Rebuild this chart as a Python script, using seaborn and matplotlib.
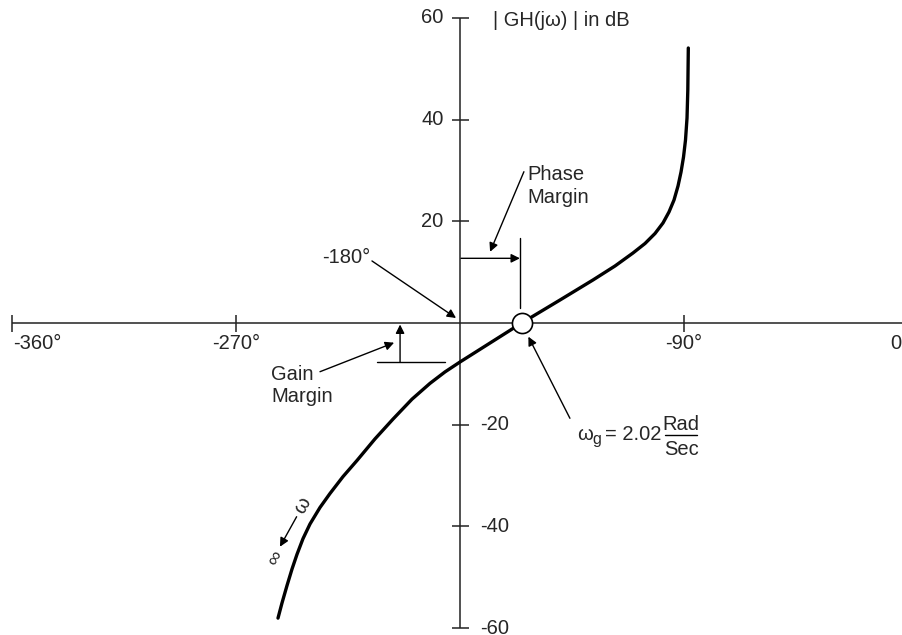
import matplotlib
matplotlib.use("Agg")
import matplotlib.pyplot as plt
import seaborn as sns
import pandas as pd

sns.set_style("white")
plt.rcParams["font.family"] = ["Liberation Sans Narrow", "Liberation Sans", "DejaVu Sans"]

# Nichols plot of the open-loop response: phase (deg) vs magnitude (dB)
phase_deg = [-253.19, -251.58, -249.57, -247.56, -245.55, -243.14, -240.32, -236.30,
             -232.28, -227.05, -221.42, -214.18, -206.94, -199.30, -192.06, -186.03,
             -180.0, -155.2, -139.79, -126.52, -117.67, -110.43, -105.61, -101.58,
             -98.37, -95.96, -93.94, -92.33, -91.12, -90.12, -89.32, -88.71, -88.39,
             -88.19]
gain_db = [-58.04, -55.06, -51.64, -48.40, -45.50, -42.42, -39.53, -36.28,
           -33.53, -30.21, -27.04, -22.79, -18.90, -14.98, -11.87, -9.62,
           -7.67, 0.0, 4.52, 8.46, 11.21, 13.77, 15.63, 17.60,
           19.67, 21.83, 24.19, 26.94, 29.69, 32.64, 35.99, 40.31, 45.82,
           54.08]

crossover_phase = -155.2     # phase at 0 dB (gain crossover)
gain_margin_db = -7.67       # magnitude at -180 deg

x_ticks = [-360, -270, -90, 0]
x_tick_labels = ["-360°", "-270°", "-90°", "0°"]
y_ticks = [60, 40, 20, -20, -40, -60]
y_tick_labels = ["60", "40", "20", "-20", "-40", "-60"]

df = pd.DataFrame({"phase": phase_deg, "gain": gain_db})

fig = plt.figure(figsize=(9.02, 6.35), dpi=100)
ax = fig.add_axes([0, 0, 1, 1])
ax.set_xlim(-364.98, -2.26)
ax.set_ylim(-61.36, 63.52)
ax.axis("off")

FS = 14.5
axis_kw = dict(color="#222222", lw=1.1, solid_capstyle="butt")

# cross-shaped axes through (-180 deg, 0 dB)
ax.plot([-360, -2.26], [0, 0], **axis_kw)
ax.plot([-180, -180], [60, -60], **axis_kw)

for xt, lab in zip(x_ticks, x_tick_labels):
    ax.plot([xt, xt], [1.6, -1.7], **axis_kw)
    if xt == -360:
        ax.text(xt + 0.3, -4.0, lab, ha="left", va="center", fontsize=FS)
    elif xt == 0:
        ax.text(-7.1, -4.0, lab, ha="left", va="center", fontsize=FS, clip_on=False)
    else:
        ax.text(xt, -4.0, lab, ha="center", va="center", fontsize=FS)

for yt, lab in zip(y_ticks, y_tick_labels):
    ax.plot([-183.3, -176.5], [yt, yt], **axis_kw)
    if yt > 0:
        ax.text(-186.6, yt, lab, ha="right", va="center", fontsize=FS)
    else:
        ax.text(-172.0, yt, lab, ha="left", va="center", fontsize=FS)

ax.text(-166.7, 59.4, "| GH(jω) | in dB", ha="left", va="center", fontsize=FS)

# the open-loop locus
sns.lineplot(data=df, x="phase", y="gain", sort=False, color="black",
             lw=2.4, ax=ax, legend=False)
ax.plot([crossover_phase], [0], marker="o", ms=14.5, mfc="white",
        mec="black", mew=1.2, zorder=5)

arrow_kw = dict(arrowstyle="-|>", color="black", lw=1.0, mutation_scale=13,
                shrinkA=0, shrinkB=0)

# -180 deg pointer
ax.text(-216.2, 12.9, "-180°", ha="right", va="center", fontsize=FS)
ax.annotate("", xy=(-181.6, 0.98), xytext=(-215.4, 12.2), arrowprops=arrow_kw)

# phase margin
ax.plot([crossover_phase - 0.5, crossover_phase - 0.5], [16.7, 2.95], color="black", lw=1.0)
ax.annotate("", xy=(crossover_phase - 0.7, 12.72), xytext=(-179.6, 12.72),
            arrowprops=arrow_kw)
ax.text(-153.1, 26.9, "Phase\nMargin", ha="left", va="center", fontsize=FS,
        linespacing=1.25)
ax.annotate("", xy=(-167.9, 14.0), xytext=(-154.3, 29.75), arrowprops=arrow_kw)

# gain margin
ax.plot([-213.4, -186.0], [gain_margin_db, gain_margin_db], color="black", lw=1.0)
ax.annotate("", xy=(-204.1, -0.3), xytext=(-204.1, gain_margin_db),
            arrowprops=arrow_kw)
ax.text(-256.0, -12.3, "Gain\nMargin", ha="left", va="center", fontsize=FS,
        linespacing=1.25)
ax.annotate("", xy=(-206.5, -3.87), xytext=(-236.3, -9.58), arrowprops=arrow_kw)

# gain crossover frequency
ax.annotate("", xy=(-152.5, -2.69), xytext=(-135.8, -18.74), arrowprops=arrow_kw)
ax.text(-133.0, -23.0, "ω", ha="left", va="baseline", fontsize=FS)
ax.text(-126.6, -23.8, "g", ha="left", va="baseline", fontsize=11.5)
ax.text(-121.6, -23.0, "= 2.02", ha="left", va="baseline", fontsize=FS)
ax.text(-91.0, -21.0, "Rad", ha="center", va="baseline", fontsize=FS)
ax.plot([-97.6, -84.7], [-22.0, -22.0], color="black", lw=1.0)
ax.text(-91.0, -25.9, "Sec", ha="center", va="baseline", fontsize=FS)

# direction of increasing frequency
ax.annotate("", xy=(-252.4, -44.0), xytext=(-245.7, -38.1), arrowprops=arrow_kw)
ax.text(-243.3, -35.9, "ω", ha="center", va="center", fontsize=FS, rotation=60)
ax.text(-254.4, -46.3, "∞", ha="center", va="center", fontsize=FS, rotation=60)

fig.savefig("out.png", dpi=100)
